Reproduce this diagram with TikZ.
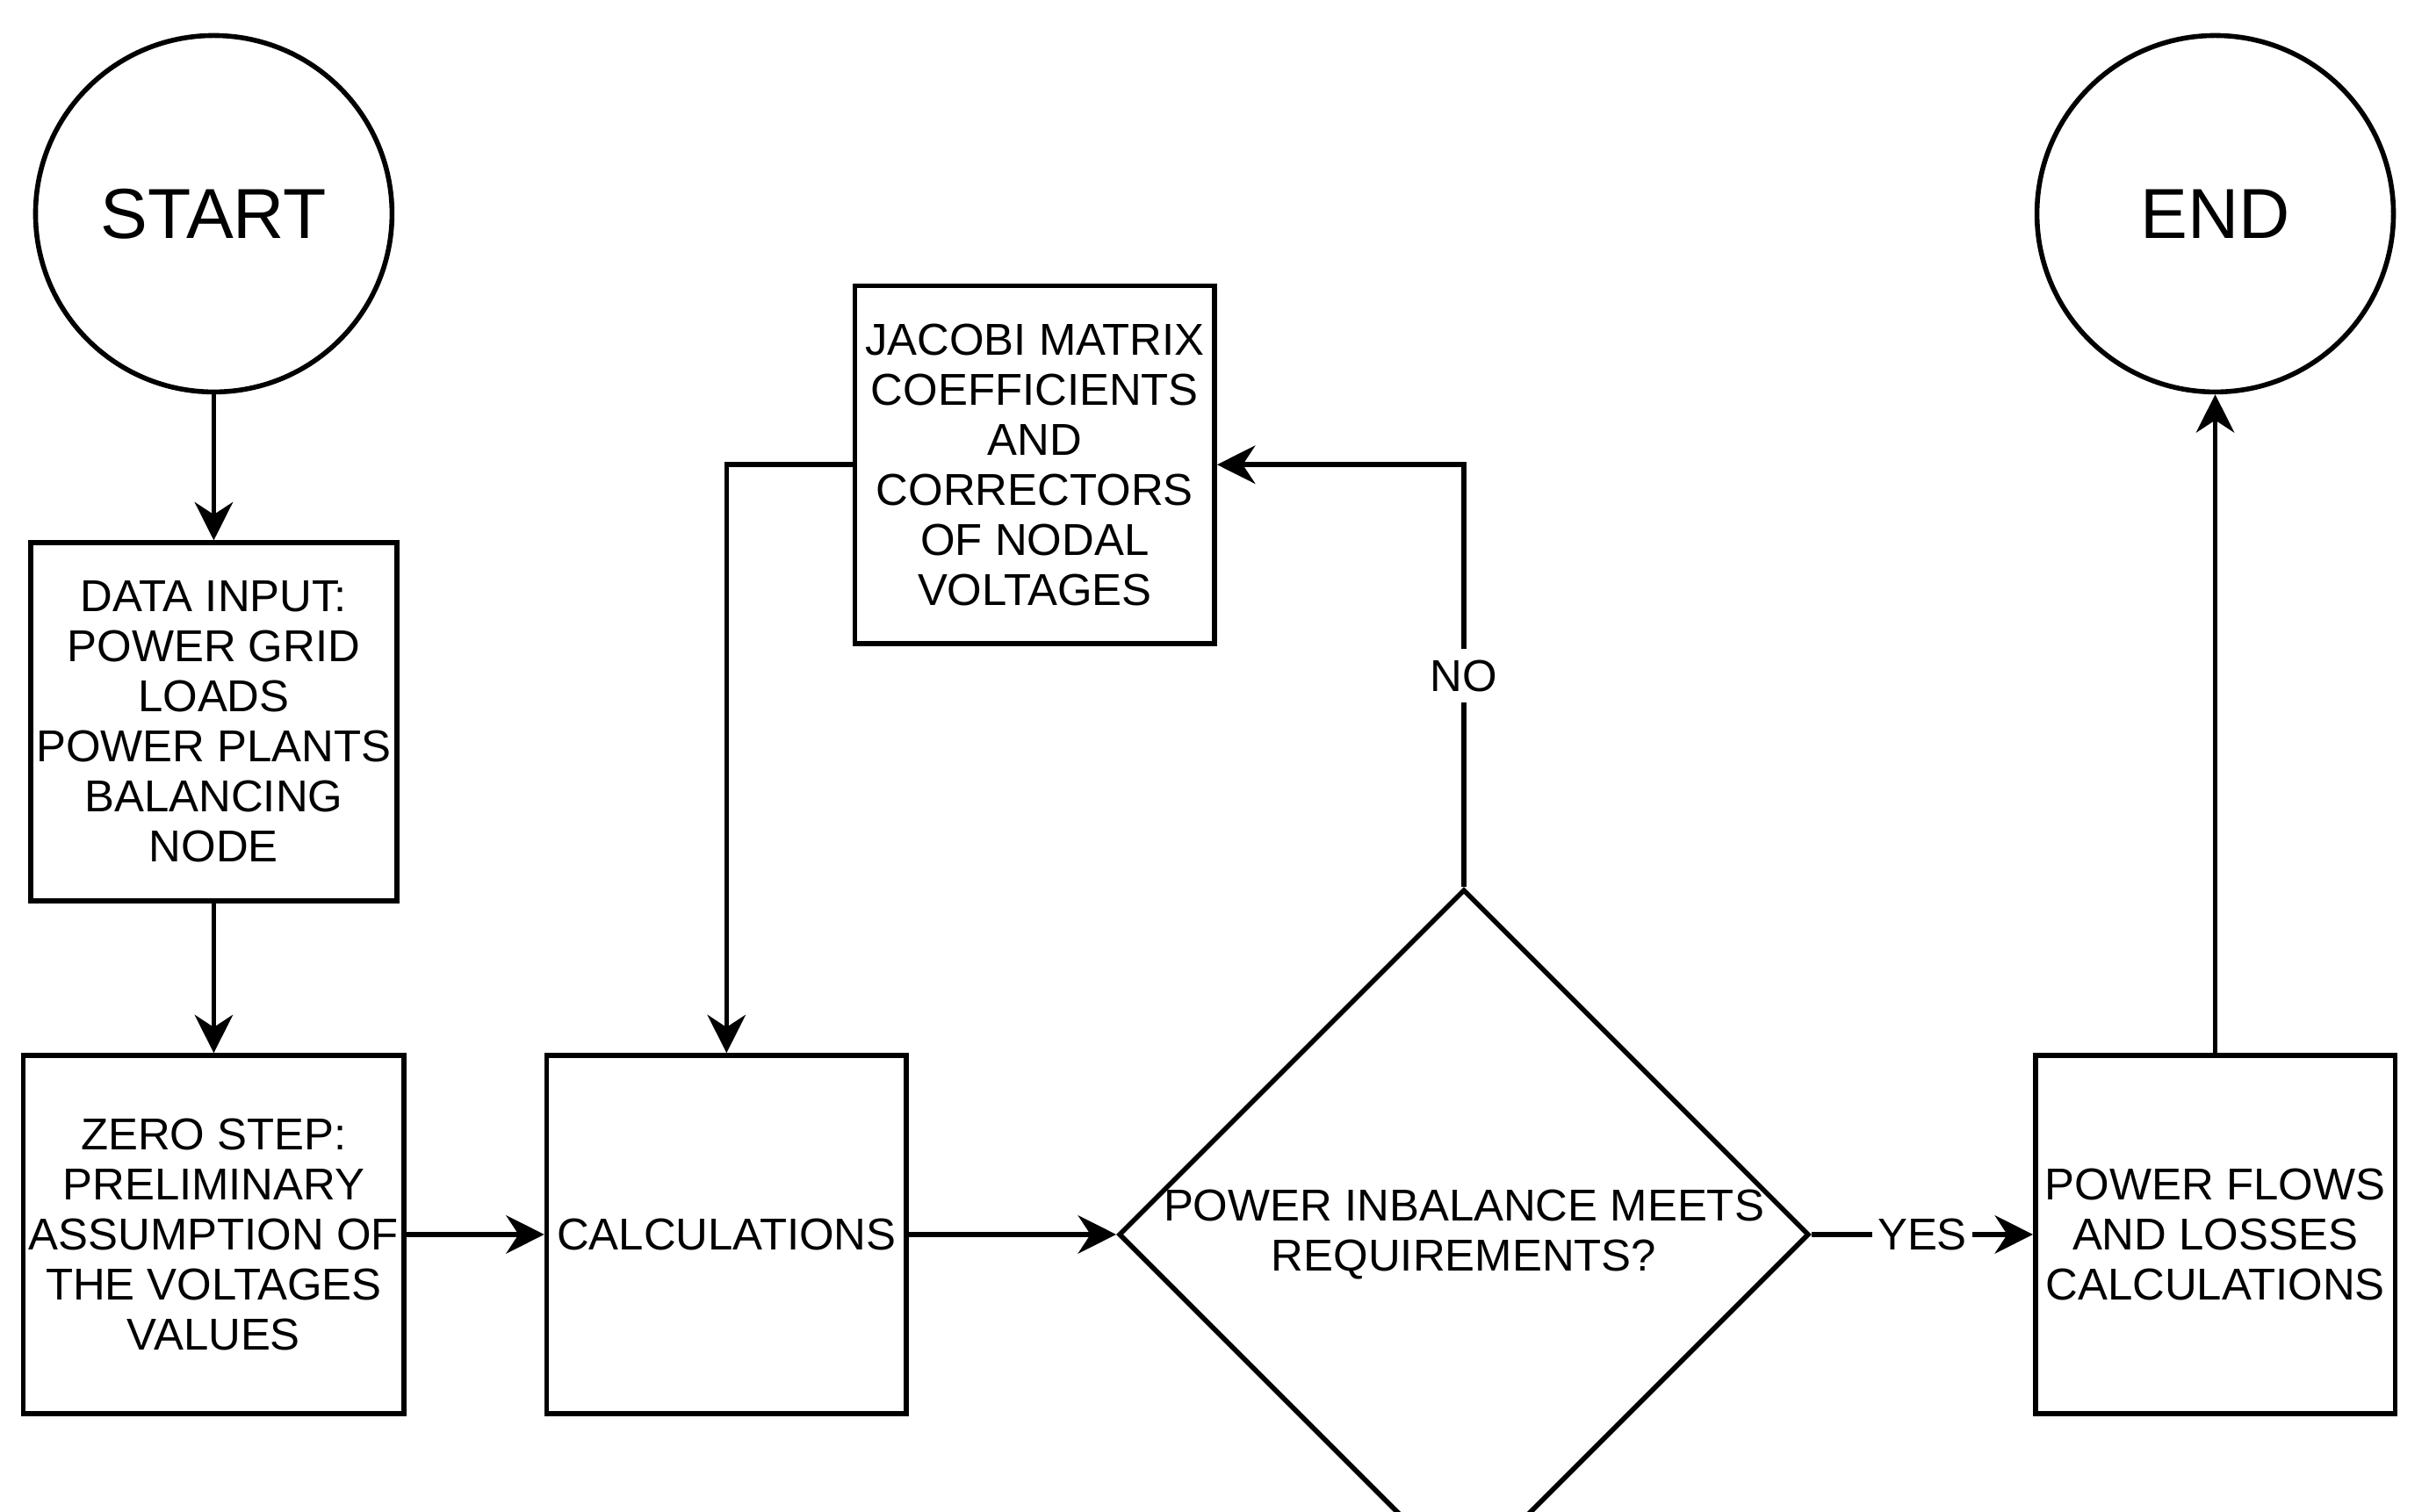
\documentclass[tikz,border=0pt]{standalone}
\usepackage{fontspec}
\setmainfont{Liberation Sans}
\usetikzlibrary{positioning,arrows.meta,shapes.geometric}

\begin{document}
\begin{tikzpicture}[x=0.01cm, y=-0.01cm,
  box/.style={draw, line width=0.9pt, minimum width=2.32cm, minimum height=2.31cm,
    font=\fontsize{8.2}{9.2}\selectfont, align=center, inner sep=1pt},
  term/.style={draw, circle, line width=0.9pt, minimum size=2.3cm,
    font=\fontsize{13}{15}\selectfont},
  dec/.style={draw, diamond, line width=0.9pt, minimum width=4.3cm, minimum height=3.21cm,
    font=\fontsize{8.2}{9.2}\selectfont, align=center, inner sep=0pt},
  flow/.style={-{Stealth[length=7pt,width=7pt]}, line width=0.9pt},
  >=Stealth
]
  \useasboundingbox (0,0) rectangle (1568,976);
  \node[term] (start) at (138,138) {START};
  \node[term] (end) at (1430,138) {END};
  \node[box] (input) at (138,466) {DATA INPUT:\\POWER GRID\\LOADS\\POWER PLANTS\\BALANCING\\NODE};
  \node[box] (zero) at (138,797) {ZERO STEP:\\PRELIMINARY\\ASSUMPTION OF\\THE VOLTAGES\\VALUES};
  \node[box] (calc) at (469,797) {CALCULATIONS};
  \node[box] (jacobi) at (668,300) {JACOBI MATRIX\\COEFFICIENTS\\AND\\CORRECTORS\\OF NODAL\\VOLTAGES};
  \node[dec] (check) at (945,797) {POWER INBALANCE MEETS\\REQUIREMENTS?};
  \node[box] (flows) at (1430,797) {POWER FLOWS\\AND LOSSES\\CALCULATIONS};

  \draw[flow] (start) -- (input);
  \draw[flow] (input) -- (zero);
  \draw[flow] (zero) -- (calc);
  \draw[flow] (calc) -- (check);
  \draw[flow] (check) -- node[fill=white, inner sep=1pt, font=\fontsize{8.2}{9.2}\selectfont] {YES} (flows);
  \draw[flow] (flows) -- (end);
  \draw[flow] (check.north) -- node[fill=white, inner sep=2pt, font=\fontsize{8.2}{9.2}\selectfont] {NO} (check.north |- jacobi.east) -- (jacobi.east);
  \draw[flow] (jacobi.west) -| (calc.north);
\end{tikzpicture}
\end{document}
